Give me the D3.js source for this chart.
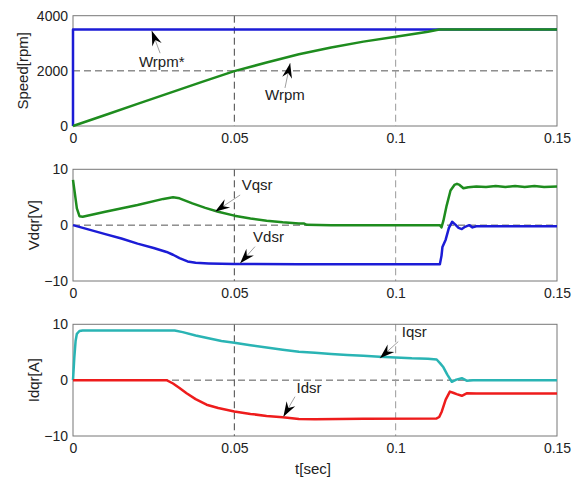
<!DOCTYPE html>
<html>
<head>
<meta charset="UTF-8">
<script src="https://d3js.org/d3.v7.min.js"></script>
<style>
  body { margin: 0; background: #fff; }
  svg { font-family: "Liberation Sans", Arial, sans-serif; }
  .tick text { font-size: 14px; fill: #222; }
  .lbl { font-size: 15px; fill: #222; }
</style>
</head>
<body>
<div id="chart"></div>
<script>
// time axis
const tDomain = [0, 0.15];
const tTicks = [0, 0.05, 0.1, 0.15];
const tTickLabels = ["0", "0.05", "0.1", "0.15"];

// panel 1: speed [rpm]
const wrpmRef = [[0, 0], [0, 3500], [0.15, 3500]];
const wrpm = [[0,0],[0.01,400],[0.02,800],[0.03,1200],[0.04,1600],[0.05,1990],[0.06,2300],
  [0.07,2600],[0.08,2850],[0.09,3060],[0.1,3240],[0.11,3420],[0.1135,3500],[0.15,3500]];

// panel 2: voltages [V]
const vqsr = [[0,8.1],[0.0005,6],[0.0012,3],[0.002,1.6],[0.003,1.5],[0.01,2.4],[0.02,3.6],
  [0.028,4.7],[0.031,5.0],[0.033,4.8],[0.037,3.9],[0.041,3.1],[0.045,2.4],[0.05,1.7],
  [0.055,1.2],[0.06,0.8],[0.065,0.5],[0.07,0.3],[0.0715,0.3],[0.0725,0.05],[0.08,0],
  [0.1137,0],[0.1142,-0.4],[0.1148,0.8],[0.1158,3.5],[0.117,6.2],[0.1182,7.2],[0.119,7.4],
  [0.1198,7.2],[0.121,6.6],[0.1225,6.8],[0.125,6.9],[0.128,6.85],[0.131,7.0],[0.134,6.85],
  [0.137,7.0],[0.14,6.85],[0.143,7.0],[0.146,6.85],[0.15,6.9]];
const vdsr = [[0,0],[0.005,-0.8],[0.01,-1.6],[0.015,-2.4],[0.02,-3.3],[0.025,-4.1],[0.029,-4.8],
  [0.031,-5.3],[0.033,-5.9],[0.0355,-6.5],[0.038,-6.75],[0.042,-6.85],[0.05,-6.95],[0.07,-7.0],
  [0.1137,-7.0],[0.1142,-5.5],[0.1145,-3.9],[0.1155,-2.6],[0.1165,-0.5],[0.1175,0.6],
  [0.1185,0.1],[0.1195,-0.5],[0.1205,-0.7],[0.1215,-0.3],[0.1228,0],[0.1238,-0.4],
  [0.125,-0.2],[0.15,-0.2]];

// panel 3: currents [A]
const iqsr = [[0,0],[0.0004,4],[0.0008,7],[0.0012,8.3],[0.002,8.8],[0.003,8.9],[0.0315,8.9],
  [0.034,8.6],[0.038,8.0],[0.042,7.5],[0.046,7.0],[0.05,6.7],[0.055,6.25],[0.06,5.85],
  [0.065,5.45],[0.07,5.1],[0.075,4.9],[0.08,4.7],[0.085,4.5],[0.09,4.35],[0.095,4.2],
  [0.1,4.05],[0.105,3.9],[0.11,3.85],[0.1127,3.7],[0.1138,3.0],[0.1148,2.3],[0.116,1.0],
  [0.1174,-0.3],[0.1188,0.1],[0.1205,0.35],[0.122,-0.1],[0.124,0],[0.15,0]];
const idsr = [[0,0],[0.029,0],[0.031,-0.6],[0.033,-1.4],[0.0352,-2.35],[0.038,-3.4],
  [0.0414,-4.4],[0.045,-5.0],[0.05,-5.6],[0.055,-6.05],[0.06,-6.4],[0.065,-6.65],
  [0.07,-6.95],[0.075,-7.0],[0.09,-6.9],[0.1127,-6.85],[0.1135,-6.6],[0.1143,-5.6],
  [0.1155,-3.5],[0.1168,-2.05],[0.118,-2.3],[0.1189,-2.5],[0.1205,-2.8],[0.122,-2.35],
  [0.125,-2.4],[0.15,-2.4]];

// annotations: label, text pos, arrow tail, arrow tip (data units)
const notes1 = [
  { text: "Wrpm*", anchor: "middle", at: [0.0275, 2140], tail: [0.027, 2640], tip: [0.0244, 3457] },
  { text: "Wrpm", anchor: "middle", at: [0.0657, 940], tail: [0.0657, 1380], tip: [0.0673, 2280] }
];
const notes2 = [
  { text: "Vqsr", anchor: "start", at: [0.0523, 6.3], tail: [0.0518, 5.4], tip: [0.044, 2.4] },
  { text: "Vdsr", anchor: "start", at: [0.0558, -2.96], tail: [0.0564, -3.85], tip: [0.0518, -6.83] }
];
const notes3 = [
  { text: "Iqsr", anchor: "start", at: [0.1019, 7.69], tail: [0.1008, 6.9], tip: [0.0951, 3.92] },
  { text: "Idsr", anchor: "start", at: [0.0693, -2.24], tail: [0.0688, -2.96], tip: [0.0652, -6.54] }
];

const W = 582, H = 482;
const left = 73, right = 557;

const panels = [
  { top: 15.7, bottom: 126, domain: [0, 4000], ticks: [0, 2000, 4000], grid: [2000],
    label: "Speed[rpm]", labelX: 23,
    series: [{ d: wrpmRef, c: "#1c1cd6" }, { d: wrpm, c: "#1e8c1e" }], notes: notes1 },
  { top: 169.3, bottom: 281, domain: [-10, 10], ticks: [-10, 0, 10], grid: [0],
    label: "Vdqr[V]", labelX: 34,
    series: [{ d: vqsr, c: "#1e8c1e" }, { d: vdsr, c: "#1c1cd6" }], notes: notes2 },
  { top: 324.3, bottom: 436, domain: [-10, 10], ticks: [-10, 0, 10], grid: [0],
    label: "Idqr[A]", labelX: 34,
    series: [{ d: iqsr, c: "#2ab4b4" }, { d: idsr, c: "#ee1c1c" }], notes: notes3 }
];

const svg = d3.select("#chart").append("svg")
  .attr("width", W).attr("height", H);

const x = d3.scaleLinear().domain(tDomain).range([left, right]);

function arrowHead(g, tail, tip) {
  const dx = tip[0] - tail[0], dy = tip[1] - tail[1];
  const len = Math.hypot(dx, dy);
  const ux = dx / len, uy = dy / len;
  const px = -uy, py = ux;
  const L = 15, hw = 5, notch = 10;
  const bx = tip[0] - ux * L, by = tip[1] - uy * L;
  const nx = tip[0] - ux * notch, ny = tip[1] - uy * notch;
  const pts = [tip, [bx + px * hw, by + py * hw], [nx, ny], [bx - px * hw, by - py * hw]];
  g.append("path").attr("d", "M" + pts.map(p => p.join(",")).join("L") + "Z")
    .attr("fill", "#000");
}

panels.forEach(p => {
  const y = d3.scaleLinear().domain(p.domain).range([p.bottom, p.top]);
  const g = svg.append("g");

  // dashed grid
  g.selectAll(".hg").data(p.grid).enter().append("line")
    .attr("x1", left).attr("x2", right)
    .attr("y1", d => y(d)).attr("y2", d => y(d))
    .attr("stroke", "#555").attr("stroke-dasharray", "7,4");
  g.selectAll(".vg").data([0.05, 0.1]).enter().append("line")
    .attr("x1", d => x(d)).attr("x2", d => x(d))
    .attr("y1", p.top).attr("y2", p.bottom)
    .attr("stroke", d => d === 0.05 ? "#444" : "#999")
    .attr("stroke-dasharray", "7,4");

  // frame
  g.append("rect").attr("x", left).attr("y", p.top)
    .attr("width", right - left).attr("height", p.bottom - p.top)
    .attr("fill", "none").attr("stroke", "#777");

  // axes
  g.append("g").attr("transform", `translate(${left},0)`)
    .call(d3.axisLeft(y).tickValues(p.ticks).tickSize(0).tickPadding(5)
      .tickFormat(d3.format("d")))
    .call(a => a.select(".domain").remove());
  g.append("g").attr("transform", `translate(0,${p.bottom})`)
    .call(d3.axisBottom(x).tickValues(tTicks).tickSize(0).tickPadding(7)
      .tickFormat((d, i) => tTickLabels[i]))
    .call(a => a.select(".domain").remove());

  g.append("text").attr("class", "lbl")
    .attr("transform", `translate(${p.labelX},${(p.top + p.bottom) / 2}) rotate(-90)`)
    .attr("text-anchor", "middle").attr("dy", "0.35em")
    .text(p.label);

  const line = d3.line().x(d => x(d[0])).y(d => y(d[1]));
  p.series.forEach(s => {
    g.append("path").attr("d", line(s.d))
      .attr("fill", "none").attr("stroke", s.c)
      .attr("stroke-width", 2.5).attr("stroke-linejoin", "round");
  });

  p.notes.forEach(n => {
    const tail = [x(n.tail[0]), y(n.tail[1])];
    const tip = [x(n.tip[0]), y(n.tip[1])];
    g.append("line").attr("x1", tail[0]).attr("y1", tail[1])
      .attr("x2", tip[0]).attr("y2", tip[1])
      .attr("stroke", "#888").attr("stroke-width", 0.8);
    arrowHead(g, tail, tip);
    g.append("text").attr("class", "lbl")
      .attr("x", x(n.at[0])).attr("y", y(n.at[1]))
      .attr("text-anchor", n.anchor).text(n.text);
  });
});

svg.append("text").attr("class", "lbl")
  .attr("x", 313).attr("y", 474).attr("text-anchor", "middle")
  .text("t[sec]");
</script>
</body>
</html>
